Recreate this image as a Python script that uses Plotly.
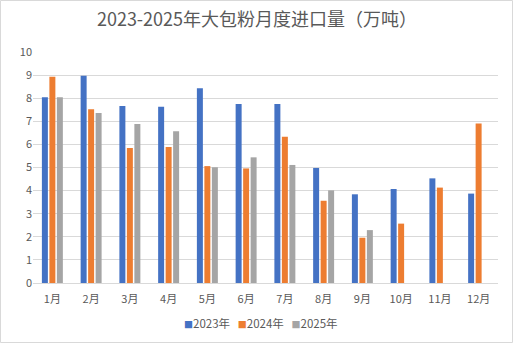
import plotly.graph_objects as go

months = ["1月", "2月", "3月", "4月", "5月", "6月", "7月", "8月", "9月", "10月", "11月", "12月"]
y2023 = [8.04, 8.97, 7.66, 7.63, 8.43, 7.75, 7.75, 4.98, 3.84, 4.07, 4.53, 3.87]
y2024 = [8.93, 7.52, 5.84, 5.89, 5.06, 4.96, 6.33, 3.56, 1.96, 2.57, 4.13, 6.91]
y2025 = [8.04, 7.36, 6.88, 6.57, 5.01, 5.44, 5.11, 4.01, 2.29, None, None, None]
series = [("2023年", y2023, "#4472C4"), ("2024年", y2024, "#ED7D31"), ("2025年", y2025, "#A5A5A5")]

W, H = 514, 344
ml, mr, mt, mb = 33, 16, 52, 61
pw, ph = W - ml - mr, H - mt - mb

fig = go.Figure()
for name, vals, col in series:
    fig.add_trace(go.Bar(x=months, y=vals, name=name, marker_color=col, marker_line_width=0))

font = "Noto Sans CJK SC, Noto Sans, sans-serif"
fig.update_layout(
    width=W, height=H,
    margin=dict(l=ml, r=mr, t=mt, b=mb),
    paper_bgcolor="white", plot_bgcolor="white",
    font=dict(family=font, color="#595959", size=11),
    title=dict(text="2023-2025年大包粉月度进口量（万吨）", x=0.5, xanchor="center",
               y=1 - 20 / H, yanchor="middle", font=dict(size=18, color="#595959")),
    barmode="group", bargap=0.42, bargroupgap=0.2,
    showlegend=False,
)
legend_text = "&nbsp;&nbsp;&nbsp;".join(
    f'<span style="color:{col};font-size:9px">■</span>{name}' for name, _, col in series
)
fig.add_annotation(text=legend_text, xref="paper", yref="paper", x=0.49, xanchor="center",
                   y=-(323 - 283) / ph, yanchor="middle", showarrow=False,
                   font=dict(size=11.5, color="#595959", family=font))
fig.update_yaxes(range=[0, 10], dtick=1, showgrid=True, gridcolor="#D9D9D9", gridwidth=1,
                 zeroline=False, showline=False, ticks="", tickfont=dict(size=11, color="#595959"))
fig.update_xaxes(showline=True, linecolor="#D9D9D9", linewidth=1, ticks="", ticklabelstandoff=6,
                 tickfont=dict(size=11, color="#595959"))
fig.add_shape(type="rect", xref="paper", yref="paper",
              x0=-(ml - 0.5) / pw, x1=1 + (mr - 1.5) / pw,
              y0=-(mb - 1.5) / ph, y1=1 + (mt - 0.5) / ph,
              line=dict(color="#D9D9D9", width=1), fillcolor="rgba(0,0,0,0)")
fig.write_html("out.html")
